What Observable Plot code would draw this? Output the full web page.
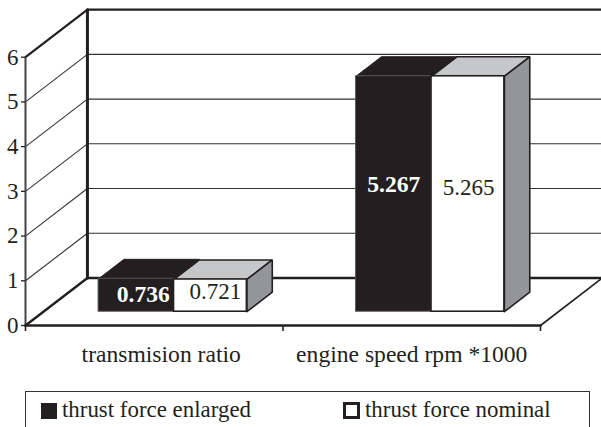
<!DOCTYPE html>
<html>
<head>
<meta charset="utf-8">
<script src="https://cdn.jsdelivr.net/npm/d3@7"></script>
<script src="https://cdn.jsdelivr.net/npm/@observablehq/plot@0.6"></script>
<style>
  html, body { margin: 0; padding: 0; background: #fff; overflow: hidden; }
  #legend {
    position: absolute; left: 25px; top: 391px; width: 565px; height: 60px;
    border: 1.4px solid #333; box-sizing: border-box;
    font: 22.9px "Liberation Serif", serif; color: #231f20;
  }
  #legend div { position: absolute; top: 3px; white-space: nowrap; line-height: 30px; }
  #legend i { display: inline-block; width: 16px; height: 16px; box-sizing: border-box; margin-right: 5px; vertical-align: -2px; }
</style>
</head>
<body>
<div id="chart"></div>
<div id="legend"></div>
<script>
// Data
const categories = ["transmision ratio", "engine speed rpm *1000"];
const seriesNames = ["thrust force enlarged", "thrust force nominal"];
const enlarged = [0.736, 5.267];
const nominal = [0.721, 5.265];
const yTicks = [0, 1, 2, 3, 4, 5, 6];

// Oblique projection layout, in scale units
const ink = "#231f20";
const yMax = 6;
const depthX = 0.2405;    // category units from the front plane to the back wall
const depthY = 1.063;     // value units from the front plane to the back wall
const barStart = 0.214, blackWidth = 0.293, whiteWidth = 0.283;
const barNear = 0.29, barFar = 0.70;
const categoryNudge = [0.027, 0];
// per category: [enlarged label, nominal label]
const labelNudgeX = [[0.027, 0.019], [0, 0.003]];
const labelNudgeY = [[0.02, 0.083], [0.21, 0.14]];

const P = (x, v, d = 0) => ({x: x + d * depthX, y: v + d * depthY});
const path = (pts, o) => Plot.line(pts.map(p => P(...p)), {x: "x", y: "y", strokeLinejoin: "miter", ...o});
const poly = (pts, o) => path([...pts, pts[0]], o);

const wall = [];
for (const v of yTicks.slice(1, -1)) {
  wall.push(path([[0, v, 0], [0, v, 1], [2, v, 1]], {stroke: "#333", strokeWidth: 1.1}));
}
const frame = [
  path([[0, 0, 1], [2, 0, 1]], {stroke: ink, strokeWidth: 2.6}),
  path([[0, yMax, 0], [0, yMax, 1], [2, yMax, 1]], {stroke: ink, strokeWidth: 2.2}),
  path([[0, 0, 1], [0, yMax, 1]], {stroke: ink, strokeWidth: 3}),
  path([[0, 0, 0], [0, yMax, 0]], {stroke: "#444", strokeWidth: 2}),
  path([[0, 0, 0], [0, 0, 1]], {stroke: ink, strokeWidth: 2.4}),
  path([[0, 0, 0], [2, 0, 0]], {stroke: ink, strokeWidth: 2.4}),
  path([[2, 0, 0], [2, 0, 1]], {stroke: ink, strokeWidth: 1.6})
];

const bars = [];
categories.forEach((c, i) => {
  const a = i + barStart, b = a + blackWidth, e = b + whiteWidth;
  const vE = enlarged[i], vN = nominal[i];
  const base = P(a, 0, barNear).y;     // value-axis height of the bar's front foot
  const lift = base - barNear * depthY; // cancels the projection's own rise for the near plane: 0
  // enlarged: top then front
  bars.push(poly([[a, vE + base, barNear], [b, vE + base, barNear], [b, vE + base, barFar], [a, vE + base, barFar]].map(([x, v, d]) => [x, v - barNear * depthY, d]),
    {fill: ink, stroke: ink, strokeWidth: 1}));
  bars.push(Plot.rect([{}], {
    x1: () => P(a, 0, barNear).x, x2: () => P(b, 0, barNear).x,
    y1: () => base, y2: () => base + vE,
    fill: ink, stroke: "#555", strokeWidth: 1, inset: 0
  }));
  // nominal: top, side, front
  bars.push(poly([[b, vN, barNear], [e, vN, barNear], [e, vN, barFar], [b, vN, barFar]],
    {fill: "#c6c7c9", stroke: ink, strokeWidth: 1.6}));
  bars.push(poly([[e, 0, barNear], [e, vN, barNear], [e, vN, barFar], [e, 0, barFar]],
    {fill: "#939598", stroke: ink, strokeWidth: 1.6}));
  bars.push(Plot.rect([{}], {
    x1: () => P(b, 0, barNear).x, x2: () => P(e, 0, barNear).x,
    y1: () => base, y2: () => base + vN,
    fill: "#fff", stroke: ink, strokeWidth: 1.6, inset: 0
  }));
  // value labels
  bars.push(Plot.text([vE], {
    x: () => P(a + blackWidth / 2 + labelNudgeX[i][0], 0, barNear).x,
    y: () => base + vE / 2 + labelNudgeY[i][0],
    text: d => d3.format(".3f")(d), fill: "#fff", fontWeight: "bold", fontSize: 23.6
  }));
  bars.push(Plot.text([vN], {
    x: () => P(b + whiteWidth / 2 + labelNudgeX[i][1], 0, barNear).x,
    y: () => base + vN / 2 + labelNudgeY[i][1],
    text: d => d3.format(".3f")(d), fill: ink, fontSize: 23
  }));
});

const chart = Plot.plot({
  width: 601,
  height: 391,
  marginLeft: 25,
  marginRight: 61,
  marginTop: 56.7,
  marginBottom: 66,
  style: {fontFamily: "'Liberation Serif', serif", background: "transparent", overflow: "visible"},
  x: {domain: [0, 2], axis: null},
  y: {domain: [0, yMax], axis: null},
  marks: [
    ...wall,
    ...frame,
    ...bars,
    Plot.axisY({ticks: yTicks, tickFormat: d => String(d), tickSize: 4, tickPadding: 3, fontSize: 23, label: null, stroke: ink, fill: ink, strokeWidth: 1.3}),
    Plot.axisX({ticks: [0, 1, 2], tickFormat: () => "", tickSize: 6, label: null, stroke: ink, strokeWidth: 1.6}),
    Plot.text(categories, {
      x: (d, i) => i + 0.5 + categoryNudge[i],
      y: 0,
      dy: 29,
      text: d => d,
      fill: ink,
      fontSize: 23.6
    })
  ]
});
document.getElementById("chart").appendChild(chart);

const legend = document.getElementById("legend");
seriesNames.forEach((name, i) => {
  const item = document.createElement("div");
  item.style.left = (i === 0 ? 15 : 317) + "px";
  const sw = document.createElement("i");
  sw.style.background = i === 0 ? ink : "#fff";
  sw.style.border = (i === 0 ? 0 : 3) + "px solid " + ink;
  if (i === 1) { sw.style.width = "17px"; sw.style.height = "17px"; }
  item.appendChild(sw);
  item.appendChild(document.createTextNode(name));
  legend.appendChild(item);
});
</script>
</body>
</html>
